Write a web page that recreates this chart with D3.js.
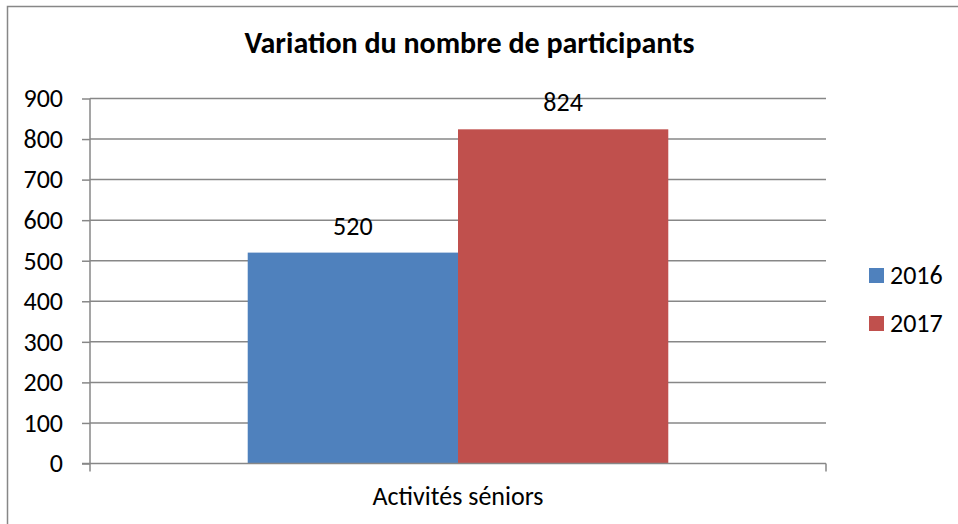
<!DOCTYPE html>
<html>
<head>
<meta charset="utf-8">
<style>
  body { margin: 0; background: #fff; }
  text { font-family: Calibri, Carlito, "Open Sans", sans-serif; fill: #000; }
</style>
</head>
<body>
<svg id="chart" width="958" height="524"></svg>
<script src="https://d3js.org/d3.v7.min.js"></script>
<script>

var title = "Variation du nombre de participants"
var categories = ["Activités séniors"]
var seriesNames = ["2016", "2017"]
var values2016 = [520]
var values2017 = [824]
var yTicks = [0, 100, 200, 300, 400, 500, 600, 700, 800, 900]

var colors = ["#4f81bd", "#c0504d"]
var gridColor = "#878787"

var seriesValues = [values2016, values2017]

var svg = d3.select("#chart"),
    plot = {left: 90, right: 826, top: 98.5, bottom: 463.5}

// outer chart border (cut off at right / bottom like the source)
svg.append("rect")
  .attr("x", 7.5).attr("y", 6.5)
  .attr("width", 1000).attr("height", 600)
  .attr("fill", "none")
  .attr("stroke", gridColor)
  .attr("stroke-width", 1.5)

var x0 = d3.scaleBand()
  .domain(categories)
  .range([plot.left, plot.right])

// gap width 150% -> 0.75 of a bar on each side
var x1 = d3.scaleBand()
  .domain(seriesNames)
  .range([0, x0.bandwidth()])
  .paddingInner(0)
  .paddingOuter(0.75)

var y = d3.scaleLinear()
  .domain([0, 900])
  .range([plot.bottom, plot.top])

// gridlines
svg.append("g")
  .selectAll("line")
  .data(yTicks.slice(1))
  .enter().append("line")
  .attr("x1", plot.left).attr("x2", plot.right)
  .attr("y1", d => y(d)).attr("y2", d => y(d))
  .attr("stroke", gridColor)
  .attr("stroke-width", 1.5)

// bars
var groups = svg.append("g")
  .selectAll("g")
  .data(categories)
  .enter().append("g")
  .attr("transform", d => "translate(" + x0(d) + ",0)")

groups.selectAll("rect")
  .data((d, i) => seriesNames.map((s, j) => ({series: s, value: seriesValues[j][i], idx: j})))
  .enter().append("rect")
  .attr("x", d => x1(d.series))
  .attr("width", x1.bandwidth())
  .attr("y", d => y(d.value))
  .attr("height", d => y(0) - y(d.value))
  .attr("fill", d => colors[d.idx])

// data labels
groups.selectAll("text.lbl")
  .data((d, i) => seriesNames.map((s, j) => ({series: s, value: seriesValues[j][i]})))
  .enter().append("text")
  .attr("class", "lbl")
  .attr("x", d => x1(d.series) + x1.bandwidth() / 2)
  .attr("y", d => y(d.value) - 18)
  .attr("text-anchor", "middle")
  .style("font-size", "26px")
  .text(d => d.value)

// y axis
var yAxis = svg.append("g")
  .attr("transform", "translate(" + plot.left + ",0)")
  .call(d3.axisLeft(y).tickValues(yTicks).tickSize(8).tickPadding(19))

yAxis.selectAll("text").style("font-size", "26px").attr("dy", "0.32em")
yAxis.select(".domain").remove()
yAxis.selectAll(".tick line").attr("stroke", gridColor).attr("stroke-width", 1.5)

svg.append("line")
  .attr("x1", plot.left).attr("x2", plot.left)
  .attr("y1", plot.top).attr("y2", plot.bottom + 8)
  .attr("stroke", gridColor).attr("stroke-width", 1.5)

// x axis
svg.append("line")
  .attr("x1", plot.left - 8).attr("x2", plot.right)
  .attr("y1", plot.bottom).attr("y2", plot.bottom)
  .attr("stroke", gridColor).attr("stroke-width", 1.5)

svg.append("line")
  .attr("x1", plot.right).attr("x2", plot.right)
  .attr("y1", plot.bottom).attr("y2", plot.bottom + 8)
  .attr("stroke", gridColor).attr("stroke-width", 1.5)

var xAxis = svg.append("g")
  .attr("transform", "translate(0," + plot.bottom + ")")
  .call(d3.axisBottom(x0).tickSize(0).tickPadding(23))

xAxis.select(".domain").remove()
xAxis.selectAll("text").style("font-size", "26px")

// title
svg.append("text")
  .attr("x", 469.5)
  .attr("y", 53)
  .attr("text-anchor", "middle")
  .style("font-size", "30px")
  .style("font-weight", "bold")
  .text(title)

// legend
var legend = svg.append("g")
  .selectAll("g")
  .data(seriesNames)
  .enter().append("g")
  .attr("transform", (d, i) => "translate(869," + (268 + i * 48) + ")")

legend.append("rect")
  .attr("width", 15).attr("height", 15)
  .attr("fill", (d, i) => colors[i])

legend.append("text")
  .attr("x", 21)
  .attr("y", 16)
  .style("font-size", "26px")
  .text(d => d)

</script>
</body>
</html>
